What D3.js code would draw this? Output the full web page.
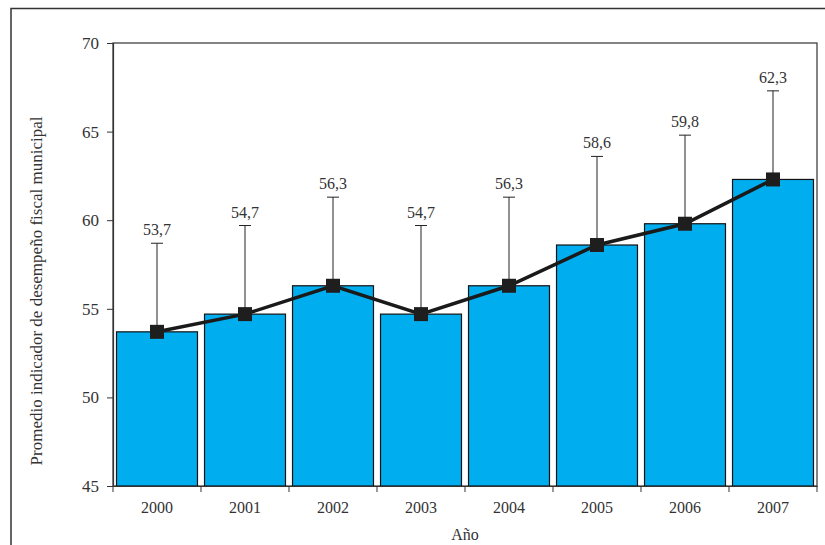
<!DOCTYPE html>
<html><head><meta charset="utf-8">
<script src="https://cdn.jsdelivr.net/npm/d3@7"></script>
<style>body{margin:0;background:#fff}svg{display:block}svg text{font-family:"Liberation Serif","Times New Roman",Times,serif !important;fill:#333}</style>
</head><body><svg id="c" width="825" height="545"></svg>
<script>
const years = ["2000","2001","2002","2003","2004","2005","2006","2007"];
const values = [53.7,54.7,56.3,54.7,56.3,58.6,59.8,62.3];
const errors = [5,5,5,5,5,5,5,5];
const yTicks = [45,50,55,60,65,70];
const labels = ["53,7","54,7","56,3","54,7","56,3","58,6","59,8","62,3"];

const svg = d3.select("#c");
const L=113,R=817,T=43,B=486;
svg.append("rect").attr("x",11).attr("y",8.5).attr("width",830).attr("height",560).attr("fill","none").attr("stroke","#333").attr("stroke-width",1.5);
const x = d3.scaleBand().domain(years).range([L,R]).paddingInner(0.08).paddingOuter(0.04);
const xb = d3.scaleBand().domain(years).range([L,R]);
const y = d3.scaleLinear().domain([45,70]).range([B,T]);

svg.append("rect").attr("x",L).attr("y",T).attr("width",R-L).attr("height",B-T).attr("fill","none").attr("stroke","#333").attr("stroke-width",1.2);

svg.selectAll(".bar").data(values).join("rect")
 .attr("x",(d,i)=>x(years[i])).attr("y",d=>y(d)).attr("width",x.bandwidth()).attr("height",d=>B-y(d))
 .attr("fill","#00AEEF").attr("stroke","#111").attr("stroke-width",1.2);

const cx = i => xb(years[i])+xb.bandwidth()/2;
values.forEach((v,i)=>{
  svg.append("line").attr("x1",cx(i)).attr("x2",cx(i)).attr("y1",y(v)).attr("y2",y(v+errors[i])).attr("stroke","#222").attr("stroke-width",1);
  svg.append("line").attr("x1",cx(i)-6).attr("x2",cx(i)+6).attr("y1",y(v+errors[i])).attr("y2",y(v+errors[i])).attr("stroke","#222").attr("stroke-width",1);
  svg.append("text").attr("x",cx(i)).attr("y",y(v+errors[i])-8).attr("text-anchor","middle").attr("font-size",16).text(labels[i]);
});

svg.append("path").datum(values).attr("fill","none").attr("stroke","#1a1a1a").attr("stroke-width",3.5)
 .attr("d",d3.line().x((d,i)=>cx(i)).y(d=>y(d)));
svg.selectAll(".mk").data(values).join("rect")
 .attr("x",(d,i)=>cx(i)-7).attr("y",d=>y(d)-7).attr("width",14).attr("height",14).attr("fill","#1e1e1e");

const ya = svg.append("g").attr("transform",`translate(${L},0)`).call(d3.axisLeft(y).tickValues(yTicks).tickSize(6).tickPadding(8));
ya.attr("font-family",null);
ya.select(".domain").attr("stroke","#333").attr("stroke-width",1.2);
ya.selectAll("line").attr("stroke","#333");
ya.selectAll("text").attr("font-size",17).attr("fill","#333");

const xa = svg.append("g").attr("transform",`translate(0,${B})`).call(d3.axisBottom(xb).tickSize(0).tickPadding(16));
xa.attr("font-family",null);
xa.select(".domain").attr("stroke","#333").attr("stroke-width",1.2);
xa.selectAll("text").attr("font-size",16).attr("fill","#333");
const bounds = [xb.range()[0]].concat(years.map(d=>xb(d)+xb.bandwidth()));
svg.selectAll(".xt").data(bounds).join("line").attr("x1",d=>d).attr("x2",d=>d).attr("y1",B).attr("y2",B+6).attr("stroke","#333").attr("stroke-width",1);

svg.append("text").attr("x",(L+R)/2).attr("y",540).attr("text-anchor","middle").attr("font-size",16).text("Año");
svg.append("text").attr("transform",`translate(42,291) rotate(-90)`).attr("text-anchor","middle").attr("font-size",17).text("Promedio indicador de desempeño fiscal municipal");
</script></body></html>
